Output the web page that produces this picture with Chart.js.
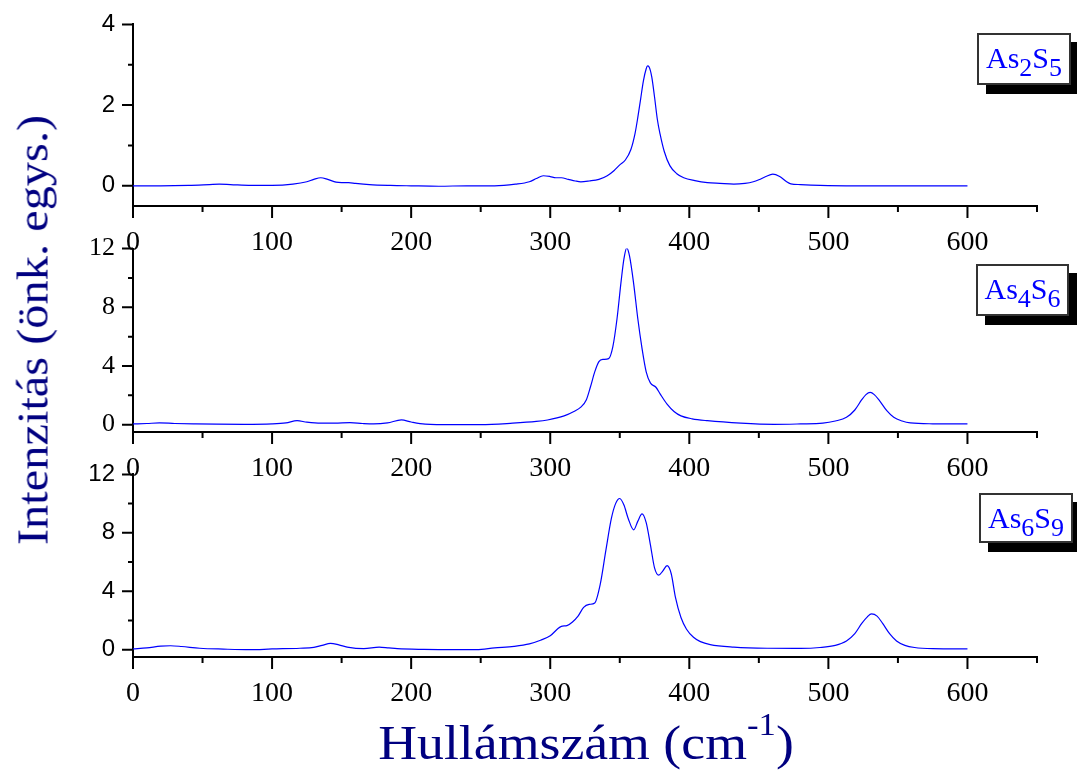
<!DOCTYPE html>
<html>
<head>
<meta charset="utf-8">
<script src="https://cdn.jsdelivr.net/npm/chart.js@4.4.1/dist/chart.umd.min.js"></script>
<style>
  body { margin: 0; background: #fff; width: 1077px; height: 781px; overflow: hidden; position: relative; }
  canvas.panel { position: absolute; left: 0; }
  .legend {
    position: absolute; box-sizing: border-box; background: #fff;
    border: 2px solid #333; box-shadow: 9px 9px 0 #000;
    font-family: "Liberation Serif", "Times New Roman", serif; font-size: 30px; color: #0000ff;
    text-align: center; line-height: 46px;
  }
  .legend sub { font-size: 26px; vertical-align: -0.3em; line-height: 0; }
  .ytitle {
    position: absolute; left: 33px; top: 330px; transform: translate(-50%, -50%) rotate(-90deg) scaleX(1.1);
    white-space: nowrap; font-family: "Liberation Serif", "Times New Roman", serif; font-size: 44px; color: #000080;
  }
  .xtitle {
    position: absolute; left: 586px; top: 742px; transform: translate(-50%, -50%) scaleX(1.12);
    white-space: nowrap; font-family: "Liberation Serif", "Times New Roman", serif; font-size: 48px; color: #000080;
  }
  .xtitle sup { font-size: 31px; vertical-align: 0.75em; line-height: 0; }
</style>
</head>
<body>
<canvas id="c1" class="panel" width="1077" height="268" style="top:-8px"></canvas>
<canvas id="c2" class="panel" width="1077" height="270" style="top:215px"></canvas>
<canvas id="c3" class="panel" width="1077" height="268" style="top:442px"></canvas>

<div class="legend" style="left:977px;top:33px;width:94px;height:52px">As<sub>2</sub>S<sub>5</sub></div>
<div class="legend" style="left:976px;top:264px;width:93px;height:52px">As<sub>4</sub>S<sub>6</sub></div>
<div class="legend" style="left:979px;top:493px;width:94px;height:50px">As<sub>6</sub>S<sub>9</sub></div>

<div class="ytitle">Intenzitás (önk. egys.)</div>
<div class="xtitle">Hullámszám (cm<sup>-1</sup>)</div>

<script>
// Hullámszám tengely
const xMajorTicks = [0, 100, 200, 300, 400, 500, 600];
const xMinorTicks = [50, 150, 250, 350, 450, 550, 650];

// As2S5
const xsAs2S5 = [0, 20, 40, 55, 62, 70, 85, 100, 115, 125, 130, 135, 140, 146, 150, 155, 160, 170, 185, 200,
  220, 240, 260, 275, 285, 290, 295, 300, 304, 308, 313, 318, 322, 328, 335, 341, 346, 350, 354, 358,
  361, 363, 365, 367, 369, 370, 371, 373, 375, 377, 379, 382, 386, 391, 396, 404, 413, 422, 432, 440,
  446, 450, 455, 460, 465, 470, 473, 480, 494, 520, 560, 600];
const ysAs2S5 = [0, 0, 0.01, 0.03, 0.04, 0.03, 0.01, 0.01, 0.04, 0.1, 0.16, 0.2, 0.16, 0.09, 0.08, 0.08, 0.06, 0.03, 0.01, 0,
  -0.01, 0, 0, 0.04, 0.1, 0.18, 0.25, 0.23, 0.2, 0.2, 0.16, 0.12, 0.1, 0.12, 0.16, 0.25, 0.38, 0.52, 0.64, 0.9,
  1.3, 1.7, 2.15, 2.6, 2.9, 2.97, 2.95, 2.7, 2.2, 1.65, 1.28, 0.85, 0.5, 0.3, 0.2, 0.13, 0.08, 0.06, 0.04, 0.06,
  0.1, 0.15, 0.23, 0.29, 0.23, 0.1, 0.05, 0.03, 0.01, 0, 0, 0];
const yMajor1 = [0, 2, 4];
const yMinor1 = [1, 3];

// As4S6
const xsAs4S6 = [0, 10, 19, 30, 45, 60, 80, 100, 110, 118, 125, 135, 145, 156, 165, 173, 183, 193, 200, 210,
  230, 250, 273, 290, 298, 310, 317, 322, 326, 329, 332, 335, 338, 342, 345, 348, 351, 353, 355, 357,
  360, 363, 366, 369, 372, 376, 379, 384, 389, 394, 402, 413, 437, 461, 480, 496, 505, 513, 519, 524,
  527, 530, 533, 537, 542, 547, 553, 559, 575, 600];
const ysAs4S6 = [0.05, 0.08, 0.12, 0.08, 0.05, 0.03, 0.02, 0.05, 0.12, 0.27, 0.17, 0.1, 0.1, 0.14, 0.08, 0.05, 0.12, 0.32, 0.18, 0.04,
  0, 0, 0.1, 0.22, 0.32, 0.6, 0.9, 1.2, 1.7, 2.6, 3.6, 4.3, 4.45, 4.5, 5.3, 7.2, 9.8, 11.3, 12.05, 11.5,
  9.6, 7.2, 5.2, 3.6, 2.85, 2.55, 2.1, 1.4, 0.9, 0.6, 0.4, 0.27, 0.1, 0.02, 0.05, 0.1, 0.25, 0.5, 1.0, 1.7,
  2.05, 2.2, 2.05, 1.6, 0.95, 0.5, 0.25, 0.12, 0.06, 0.05];

// As6S9
const xsAs6S9 = [0, 10, 20, 27, 35, 48, 65, 84, 100, 120, 130, 136, 142, 148, 154, 166, 177, 184, 190, 209,
  230, 247, 260, 274, 285, 293, 300, 305, 308, 312, 316, 320, 324, 328, 332, 336, 340, 344, 347, 350,
  353, 356, 360, 363, 366, 369, 372, 375, 378, 381, 384, 387, 390, 394, 398, 403, 408, 415, 432, 456,
  480, 494, 505, 513, 519, 524, 528, 531, 535, 539, 544, 549, 555, 562, 575, 600];
const ysAs6S9 = [0.05, 0.12, 0.25, 0.27, 0.22, 0.1, 0.04, 0, 0.05, 0.1, 0.16, 0.3, 0.43, 0.33, 0.18, 0.07, 0.18, 0.12, 0.07, 0.02,
  0, 0, 0.12, 0.23, 0.4, 0.65, 0.95, 1.4, 1.6, 1.65, 1.9, 2.3, 2.9, 3.1, 3.2, 4.5, 6.8, 9.0, 10.0, 10.35,
  9.9, 9.0, 8.2, 8.8, 9.3, 8.7, 7.2, 5.6, 5.1, 5.4, 5.75, 5.2, 3.6, 2.2, 1.4, 0.85, 0.55, 0.35, 0.18, 0.1,
  0.09, 0.15, 0.3, 0.6, 1.1, 1.8, 2.25, 2.45, 2.3, 1.8, 1.1, 0.6, 0.3, 0.15, 0.07, 0.05];
const yMajor23 = [0, 4, 8, 12];
const yMinor23 = [2, 6, 10];

const serif = '"Liberation Serif", "Times New Roman", serif';
const sans = '"Liberation Sans", Arial, sans-serif';

// kézzel rajzolt beosztások (fő + mellék), a skála pixelértékeiből
const tickMarks = {
  id: 'tickMarks',
  afterDraw(chart, args, opts) {
    const ctx = chart.ctx;
    const xs = chart.scales.x, ys = chart.scales.y;
    const bottom = chart.chartArea.bottom, left = chart.chartArea.left;
    ctx.save();
    ctx.strokeStyle = '#000';
    ctx.lineWidth = 2;
    ctx.beginPath();
    xMajorTicks.forEach(v => { const p = xs.getPixelForValue(v); ctx.moveTo(p, bottom); ctx.lineTo(p, bottom + 12); });
    xMinorTicks.forEach(v => { const p = xs.getPixelForValue(v); ctx.moveTo(p, bottom); ctx.lineTo(p, bottom + 6); });
    opts.yMajor.forEach(v => { const p = ys.getPixelForValue(v); ctx.moveTo(left, p); ctx.lineTo(left - 11, p); });
    opts.yMinor.forEach(v => { const p = ys.getPixelForValue(v); ctx.moveTo(left, p); ctx.lineTo(left - 5, p); });
    ctx.stroke();
    ctx.restore();
  }
};

function makePanel(id, xs, ys, yMin, yMax, yMajor, yMinor, yFont, yFontSize, xHeight) {
  const points = xs.map((x, i) => ({ x: x, y: ys[i] }));
  new Chart(document.getElementById(id), {
    type: 'line',
    data: {
      datasets: [{
        data: points,
        borderColor: '#0000ff',
        borderWidth: 1.2,
        pointRadius: 0,
        cubicInterpolationMode: 'monotone',
        fill: false
      }]
    },
    options: {
      responsive: false,
      animation: false,
      events: [],
      layout: { padding: { top: 10, right: 40, left: 0, bottom: 0 } },
      plugins: {
        legend: { display: false },
        tooltip: { enabled: false },
        tickMarks: { yMajor: yMajor, yMinor: yMinor }
      },
      scales: {
        x: {
          type: 'linear', min: 0, max: 650,
          grid: { display: false, drawTicks: false },
          border: { display: true, color: '#000', width: 2 },
          afterBuildTicks: axis => { axis.ticks = xMajorTicks.map(v => ({ value: v })); },
          afterFit: axis => { axis.height = xHeight; },
          ticks: { color: '#000', padding: 20, maxRotation: 0, autoSkip: false, font: { family: serif, size: 28 } }
        },
        y: {
          type: 'linear', min: yMin, max: yMax,
          grid: { display: false, drawTicks: false },
          border: { display: true, color: '#000', width: 2 },
          afterBuildTicks: axis => { axis.ticks = yMajor.map(v => ({ value: v })); },
          afterFit: axis => { axis.width = 133; },
          ticks: { color: '#000', padding: 18, autoSkip: false, font: { family: yFont, size: yFontSize } }
        }
      }
    },
    plugins: [tickMarks]
  });
}

makePanel('c1', xsAs2S5, ysAs2S5, -0.5, 4, yMajor1, yMinor1, sans, 24, 54);
makePanel('c2', xsAs4S6, ysAs4S6, -0.5, 12, yMajor23, yMinor23, serif, 26, 53);
makePanel('c3', xsAs6S9, ysAs6S9, -0.5, 12, yMajor23, yMinor23, sans, 24, 53);
</script>
</body>
</html>
